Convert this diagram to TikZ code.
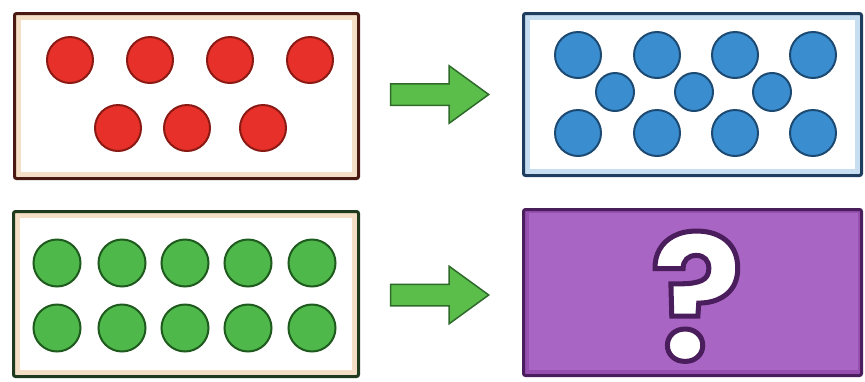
\documentclass[tikz,border=0pt]{standalone}
\usepackage{fontspec}
\newfontfamily\qmfont{Poppins}
\usetikzlibrary{shapes.arrows,calc}

\definecolor{redfill}{HTML}{E8302A}
\definecolor{redline}{HTML}{8A1A14}
\definecolor{bluefill}{HTML}{3A8ED0}
\definecolor{blueline}{HTML}{1D4A72}
\definecolor{greenfill}{HTML}{4FB84A}
\definecolor{greenline}{HTML}{1F5A1F}
\definecolor{brownline}{HTML}{4A1A12}
\definecolor{beige}{HTML}{F4DFC6}
\definecolor{navyline}{HTML}{1F3D5E}
\definecolor{paleblue}{HTML}{C6DEF0}
\definecolor{darkgreen}{HTML}{1F3A1C}
\definecolor{purplefill}{HTML}{A965C3}
\definecolor{purpleband}{HTML}{9550B0}
\definecolor{purpleline}{HTML}{4A1D5C}
\definecolor{arrowfill}{HTML}{5BBE4B}
\definecolor{arrowline}{HTML}{2E6A2A}

% outlined glyphs: fill, then stroke
\newcommand\outlinedtext[1]{\special{pdf:literal direct 2 Tr 5 w 0.29 0.114 0.36 RG}#1\special{pdf:literal direct 0 Tr}}

\tikzset{
  tray/.style={rectangle, rounded corners=2pt, line width=3pt, inner sep=0pt},
  dot/.style={circle, line width=2pt, inner sep=0pt, minimum size=#1},
  fatarrow/.style={single arrow, draw=arrowline, fill=arrowfill, line width=1.5pt,
    inner sep=10pt, minimum height=98pt, minimum width=56pt,
    single arrow head extend=18pt, single arrow tip angle=72, single arrow head indent=0pt}
}

\begin{document}
\begin{tikzpicture}[x=1pt, y=-1pt]
  \useasboundingbox (0,0) rectangle (865,381);

  % the four trays
  \node[tray, draw=brownline, fill=beige, minimum width=344pt, minimum height=165pt] (redbox) at (186.5,96) {};
  \node[tray, draw=navyline, fill=paleblue, minimum width=338pt, minimum height=162pt] (bluebox) at (692.5,94.5) {};
  \node[tray, draw=darkgreen, fill=beige, minimum width=345pt, minimum height=165pt] (greenbox) at (186,294) {};
  \node[tray, draw=purpleline, fill=purpleband, minimum width=338pt, minimum height=166pt] (purplebox) at (692.5,292.5) {};

  % inner faces
  \fill[white] ([shift={(8,8)}]redbox.north west) rectangle ([shift={(-8,-8)}]redbox.south east);
  \fill[white] ([shift={(8,8)}]bluebox.north west) rectangle ([shift={(-8,-8)}]bluebox.south east);
  \fill[white] ([shift={(8,8)}]greenbox.north west) rectangle ([shift={(-8,-8)}]greenbox.south east);
  \fill[purplefill] ([shift={(7,5)}]purplebox.north west) rectangle ([shift={(-5,-7)}]purplebox.south east);

  % red dots
  \foreach \x [count=\i] in {70,150,230,310}
    \node[dot=46pt, draw=redline, fill=redfill] (r\i) at (\x,60) {};
  \foreach \x [count=\i from 5] in {118,187,263}
    \node[dot=46pt, draw=redline, fill=redfill] (r\i) at (\x,128) {};

  % blue dots
  \foreach \x [count=\i] in {578,657,735,813} {
    \node[dot=46pt, draw=blueline, fill=bluefill] (bt\i) at (\x,55) {};
    \node[dot=46pt, draw=blueline, fill=bluefill] (bb\i) at (\x,133) {};
  }
  \foreach \x [count=\i] in {615,694,772}
    \node[dot=38pt, draw=blueline, fill=bluefill] (bm\i) at (\x,92) {};

  % green dots
  \foreach \x [count=\i] in {57,122,185,248,312} {
    \node[dot=47pt, draw=greenline, fill=greenfill] (gt\i) at (\x,263) {};
    \node[dot=47pt, draw=greenline, fill=greenfill] (gb\i) at (\x,328) {};
  }

  % arrows
  \node[fatarrow, anchor=tip] (toparrow) at ($(bluebox.west)+(-32,0)$) {};
  \node[fatarrow, anchor=tip] (botarrow) at ($(purplebox.west)+(-32,2.5)$) {};

  % question mark
  \node[text=white, anchor=base, inner sep=0pt, font=\qmfont\bfseries\fontsize{174}{174}\selectfont] (qmark)
    at ($(purplebox.south)+(4.5,-17)$) {\outlinedtext{?}};
\end{tikzpicture}
\end{document}
